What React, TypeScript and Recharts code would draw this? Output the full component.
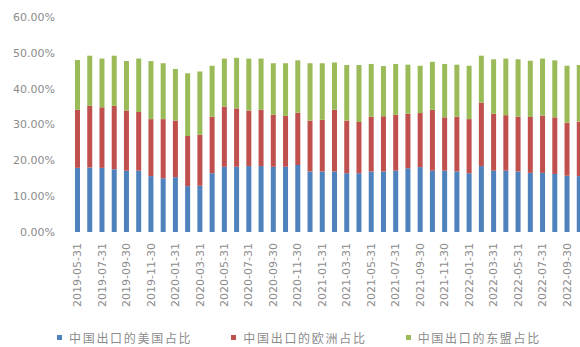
import React from 'react';
import { BarChart, Bar, XAxis, YAxis, Legend } from 'recharts';

// 月末日期
const months = [
  '2019-05-31', '2019-06-30', '2019-07-31', '2019-08-31', '2019-09-30', '2019-10-31',
  '2019-11-30', '2019-12-31', '2020-01-31', '2020-02-29', '2020-03-31', '2020-04-30',
  '2020-05-31', '2020-06-30', '2020-07-31', '2020-08-31', '2020-09-30', '2020-10-31',
  '2020-11-30', '2020-12-31', '2021-01-31', '2021-02-28', '2021-03-31', '2021-04-30',
  '2021-05-31', '2021-06-30', '2021-07-31', '2021-08-31', '2021-09-30', '2021-10-31',
  '2021-11-30', '2021-12-31', '2022-01-31', '2022-02-28', '2022-03-31', '2022-04-30',
  '2022-05-31', '2022-06-30', '2022-07-31', '2022-08-31', '2022-09-30', '2022-10-31',
];

// 各地区占中国出口的比重（%）
const usShare = [
  17.9, 18.0, 17.9, 17.5, 17.1, 17.1, 15.6, 15.0, 15.3, 12.8, 12.9, 16.4,
  18.2, 18.2, 18.4, 18.4, 18.2, 18.2, 18.7, 16.9, 16.9, 16.9, 16.4, 16.4,
  16.9, 16.9, 17.1, 17.8, 18.1, 17.1, 17.1, 16.9, 16.4, 18.4, 17.1, 17.1,
  16.9, 16.5, 16.5, 16.2, 15.7, 15.6,
];
const euShare = [
  16.2, 17.2, 16.9, 17.7, 16.8, 16.4, 15.9, 16.5, 15.8, 14.0, 14.2, 15.8,
  16.8, 16.3, 15.5, 15.7, 14.5, 14.2, 14.6, 14.2, 14.4, 17.2, 14.7, 14.3,
  15.3, 15.4, 15.6, 15.2, 15.1, 17.0, 14.9, 15.3, 15.1, 17.7, 15.9, 15.5,
  15.3, 15.6, 16.0, 15.8, 14.8, 15.2,
];
const aseanShare = [
  13.9, 14.0, 13.6, 14.0, 13.8, 14.9, 16.2, 15.6, 14.4, 17.5, 17.7, 14.2,
  13.4, 14.1, 14.5, 14.3, 14.4, 14.7, 14.6, 16.0, 15.8, 13.2, 15.5, 15.9,
  14.7, 14.0, 14.2, 13.7, 13.2, 13.4, 14.9, 14.5, 14.9, 13.1, 15.2, 15.8,
  16.0, 15.7, 15.9, 15.9, 15.9, 15.8,
];

const yTicks = [0, 10, 20, 30, 40, 50, 60];

const series = [
  { key: 'us', name: '中国出口的美国占比', color: '#4f81bd' },
  { key: 'eu', name: '中国出口的欧洲占比', color: '#c0504d' },
  { key: 'asean', name: '中国出口的东盟占比', color: '#9bbb59' },
];

const data = months.map((m, i) => ({
  date: m,
  us: usShare[i],
  eu: euShare[i],
  asean: aseanShare[i],
}));

const axisFont = '"DejaVu Sans", sans-serif';
const cjkFont = '"Noto Sans CJK SC", sans-serif';
const textGray = '#8c8c8c';

const DateTick = (props: any) => {
  const { x, y, payload } = props;
  return (
    <g transform={`translate(${x},${y})`}>
      <text
        transform="rotate(-90)"
        textAnchor="end"
        dy={4}
        fill={textGray}
        fontSize={11}
        fontFamily={axisFont}
      >
        {payload.value}
      </text>
    </g>
  );
};

const ShareLegend = () => (
  <div
    style={{
      display: 'flex',
      paddingLeft: 57,
      height: 30,
      alignItems: 'center',
      position: 'relative',
      top: 10,
    }}
  >
    {series.map((s) => (
      <div key={s.key} style={{ display: 'flex', alignItems: 'center', marginRight: 39 }}>
        <span style={{ width: 5, height: 5, background: s.color, marginRight: 7 }} />
        <span
          style={{
            fontFamily: cjkFont,
            fontSize: 12,
            letterSpacing: 1.7,
            color: textGray,
          }}
        >
          {s.name}
        </span>
      </div>
    ))}
  </div>
);

export default function App() {
  return (
    <div
      style={{
        position: 'absolute',
        left: 0,
        top: 0,
        width: 580,
        height: 347,
        overflow: 'hidden',
        background: '#fff',
      }}
    >
      <BarChart
        width={586}
        height={347}
        data={data}
        barSize={5}
        margin={{ top: 17, right: 1, left: 0, bottom: 5 }}
      >
        <XAxis
          dataKey="date"
          interval={1}
          axisLine={false}
          tickLine={false}
          height={80}
          tick={<DateTick />}
          tickMargin={5}
        />
        <YAxis
          width={71}
          domain={[0, 60]}
          ticks={yTicks}
          axisLine={false}
          tickLine={false}
          tickMargin={10}
          tickFormatter={(v: number) => `${v.toFixed(2)}%`}
          tick={{ fill: textGray, fontSize: 11, fontFamily: axisFont }}
        />
        <Legend verticalAlign="bottom" height={30} content={<ShareLegend />} />
        {series.map((s) => (
          <Bar
            key={s.key}
            dataKey={s.key}
            name={s.name}
            stackId="share"
            fill={s.color}
            barSize={5}
            isAnimationActive={false}
          />
        ))}
      </BarChart>
    </div>
  );
}
